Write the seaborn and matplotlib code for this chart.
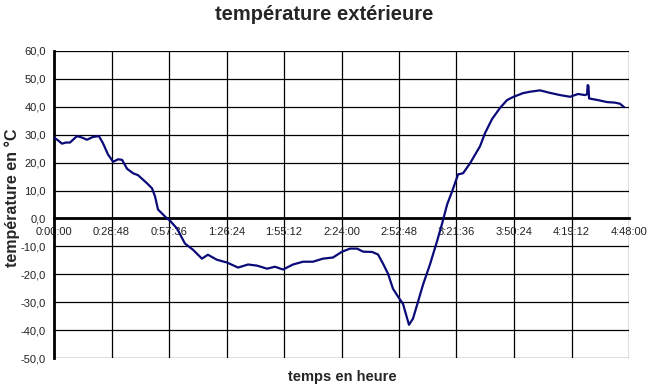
import matplotlib
matplotlib.use("Agg")
import matplotlib.pyplot as plt
import seaborn as sns
import pandas as pd
from matplotlib.ticker import FixedLocator, FuncFormatter

# time in minutes since start, temperature in °C
minutes = [0, 2.0, 4.0, 6.0, 8.0, 11.5, 14.0, 16.5, 19.5, 22.5, 24.5, 27.0, 29.6,
           32.1, 34.1, 36.6, 39.6, 42.1, 46.6, 49.1, 50.6, 52.1, 55.6, 58.1, 61.6,
           65.6, 69.6, 74.1, 77.1, 81.6, 86.7, 92.2, 97.2, 101.7, 106.7, 110.7,
           114.7, 119.7, 124.7, 129.7, 134.7, 139.7, 144.3, 148.3, 151.8, 154.8,
           159.3, 162.3, 164.8, 167.3, 169.8, 172.3, 174.8, 177.8, 179.8, 182.3,
           184.8, 188.3, 191.8, 194.4, 196.9, 199.4, 202.4, 204.9, 208.4, 213.4,
           215.9, 219.4, 223.4, 226.9, 229.9, 234.9, 238.4, 243.4, 248.4, 253.5,
           258.5, 262.5, 266.0, 267.0, 267.3, 267.7, 268.0, 272.5, 277.0, 281.0,
           283.5, 285.5]
temperature = [29.0, 28.0, 26.8, 27.2, 27.2, 29.5, 29.0, 28.2, 29.2, 29.5, 27.0,
               23.0, 20.3, 21.2, 21.0, 17.8, 16.2, 15.5, 12.6, 10.8, 7.9, 3.2, 0.7,
               -0.8, -3.6, -9.0, -11.2, -14.4, -13.0, -14.8, -15.8, -17.6, -16.5,
               -16.9, -18.0, -17.3, -18.3, -16.5, -15.5, -15.5, -14.4, -14.0, -11.9,
               -10.8, -10.8, -11.9, -12.0, -12.9, -16.2, -19.8, -25.2, -28.0, -30.6,
               -38.1, -35.9, -29.9, -23.8, -16.5, -8.3, -1.8, 5.0, 9.7, 15.8, 16.2,
               19.8, 25.9, 30.6, 35.6, 39.6, 42.4, 43.5, 44.9, 45.4, 45.9, 45.0,
               44.2, 43.6, 44.6, 44.2, 44.5, 47.8, 47.5, 43.0, 42.4, 41.7, 41.5,
               41.1, 39.9]

x_ticks = [0, 28.8, 57.6, 86.4, 115.2, 144.0, 172.8, 201.6, 230.4, 259.2, 288.0]
y_ticks = [-50, -40, -30, -20, -10, 0, 10, 20, 30, 40, 50, 60]

title = "température extérieure"
xlabel = "temps en heure"
ylabel = "température en °C"

sns.set_style("white")
plt.rcParams["font.family"] = ["Liberation Sans", "DejaVu Sans"]

df = pd.DataFrame({"t": minutes, "T": temperature})

fig = plt.figure(figsize=(6.49, 3.88), dpi=100)
ax = fig.add_axes([54 / 649, 30 / 388, 575 / 649, 307 / 388])

sns.lineplot(data=df, x="t", y="T", ax=ax, color="#0a0a78", linewidth=1.6,
             estimator=None, sort=False, zorder=3)

ax.set_xlim(0, 288)
ax.set_ylim(-50, 60)
ax.xaxis.set_major_locator(FixedLocator(x_ticks))
ax.yaxis.set_major_locator(FixedLocator(y_ticks))


def fmt_time(v, pos):
    s = int(round(v * 60))
    return f"{s // 3600}:{(s % 3600) // 60:02d}:{s % 60:02d}"


def fmt_temp(v, pos):
    return f"{v:.1f}".replace(".", ",")


ax.xaxis.set_major_formatter(FuncFormatter(fmt_time))
ax.yaxis.set_major_formatter(FuncFormatter(fmt_temp))

ax.grid(True, color="black", linewidth=0.9)
ax.set_axisbelow(True)

for s in ["top", "right"]:
    ax.spines[s].set_visible(False)
ax.spines["bottom"].set_position(("data", 0))
ax.spines["bottom"].set_linewidth(2)
ax.spines["left"].set_linewidth(2)
ax.spines["bottom"].set_color("black")
ax.spines["left"].set_color("black")
ax.spines["bottom"].set_zorder(2)

ax.tick_params(axis="x", direction="out", length=4, width=1, pad=2,
               labelsize=8, colors="black", labelcolor="#222222")
ax.tick_params(axis="y", direction="out", length=4, width=1, pad=2,
               labelsize=8, colors="black", labelcolor="#222222")

ax.set_xlabel("")
ax.set_ylabel("")
fig.text(324 / 649, 1 - 15 / 388, title, ha="center", va="center",
         fontsize=14.5, fontweight="bold")
fig.text(342 / 649, 1 - 377 / 388, xlabel, ha="center", va="center",
         fontsize=10.5, fontweight="bold")
fig.text(12 / 649, 1 - 198 / 388, ylabel, ha="center", va="center",
         rotation=90, fontsize=11.5, fontweight="bold")

fig.savefig("out.png", dpi=100)
